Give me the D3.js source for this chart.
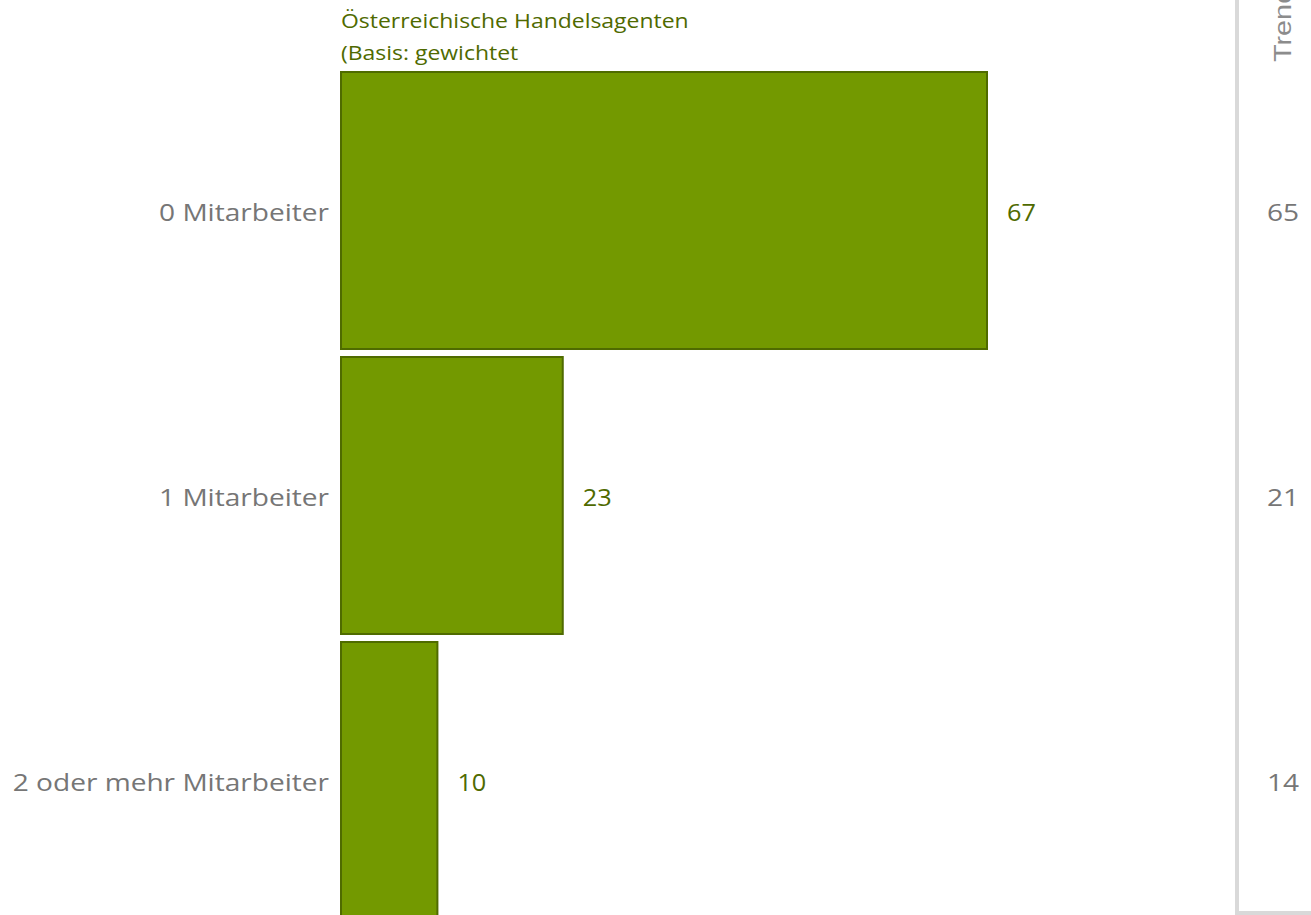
<!DOCTYPE html>
<html><head><meta charset="utf-8">
<script src="https://cdn.jsdelivr.net/npm/d3@7"></script>
<style>html,body{margin:0;padding:0;background:#fff;overflow:hidden}</style>
</head><body>
<script>
const categories = ["0 Mitarbeiter", "1 Mitarbeiter", "2 oder mehr Mitarbeiter"];
const values = [67, 23, 10];
const trendValues = [65, 21, 14];
const titleLines = ["Österreichische Handelsagenten", "(Basis: gewichtet"];
const trendLabel = "Trend";

const W = 1311, H = 915;
const svg = d3.select("body").append("svg").attr("width", W).attr("height", H);
const font = "'Open Sans', sans-serif";

const x = d3.scaleLinear().domain([0, 67]).range([341, 987]);
const y = d3.scaleBand().domain(categories).range([72, 919]).paddingInner(8 / 285).paddingOuter(0);
const cy = c => y(c) + y.bandwidth() / 2 + 2;

svg.selectAll("rect.bar").data(values).join("rect")
  .attr("class", "bar")
  .attr("x", x(0))
  .attr("y", (d, i) => y(categories[i]))
  .attr("width", d => x(d) - x(0))
  .attr("height", y.bandwidth())
  .attr("fill", "#739900")
  .attr("stroke", "#4f6b00")
  .attr("stroke-width", 2);

svg.selectAll("text.cat").data(categories).join("text")
  .attr("class", "cat")
  .attr("transform", d => `translate(329,${cy(d)}) scale(1.2,1)`)
  .attr("dy", "0.36em")
  .attr("text-anchor", "end")
  .attr("font-family", font)
  .attr("font-size", 23.4)
  .attr("fill", "#767676")
  .text(d => d);

svg.selectAll("text.val").data(values).join("text")
  .attr("class", "val")
  .attr("transform", (d, i) => `translate(${x(d) + 20},${cy(categories[i])}) scale(1.1,1)`)
  .attr("dy", "0.36em")
  .attr("font-family", font)
  .attr("font-size", 23)
  .attr("fill", "#4f6a00")
  .text(d => d);

svg.selectAll("text.title").data(titleLines).join("text")
  .attr("class", "title")
  .attr("transform", (d, i) => `translate(341,${28 + i * 32}) scale(1.12,1)`)
  .attr("font-family", font)
  .attr("font-size", 20.5)
  .attr("fill", "#4f6a00")
  .text(d => d);

// trend panel frame
svg.append("path")
  .attr("d", `M1237,0 V913 H${W}`)
  .attr("fill", "none")
  .attr("stroke", "#d9d9d9")
  .attr("stroke-width", 4);

svg.append("text")
  .attr("transform", "translate(1291,62) rotate(-90) scale(1.2,1)")
  .attr("font-family", "'Liberation Sans', Arial, sans-serif")
  .attr("font-size", 24)
  .attr("fill", "#8c8c8c")
  .text(trendLabel);

svg.selectAll("text.trend").data(trendValues).join("text")
  .attr("class", "trend")
  .attr("transform", (d, i) => `translate(1283,${cy(categories[i])}) scale(1.2,1)`)
  .attr("dy", "0.36em")
  .attr("text-anchor", "middle")
  .attr("font-family", font)
  .attr("font-size", 23.4)
  .attr("fill", "#767676")
  .text(d => d);
</script>
</body></html>
